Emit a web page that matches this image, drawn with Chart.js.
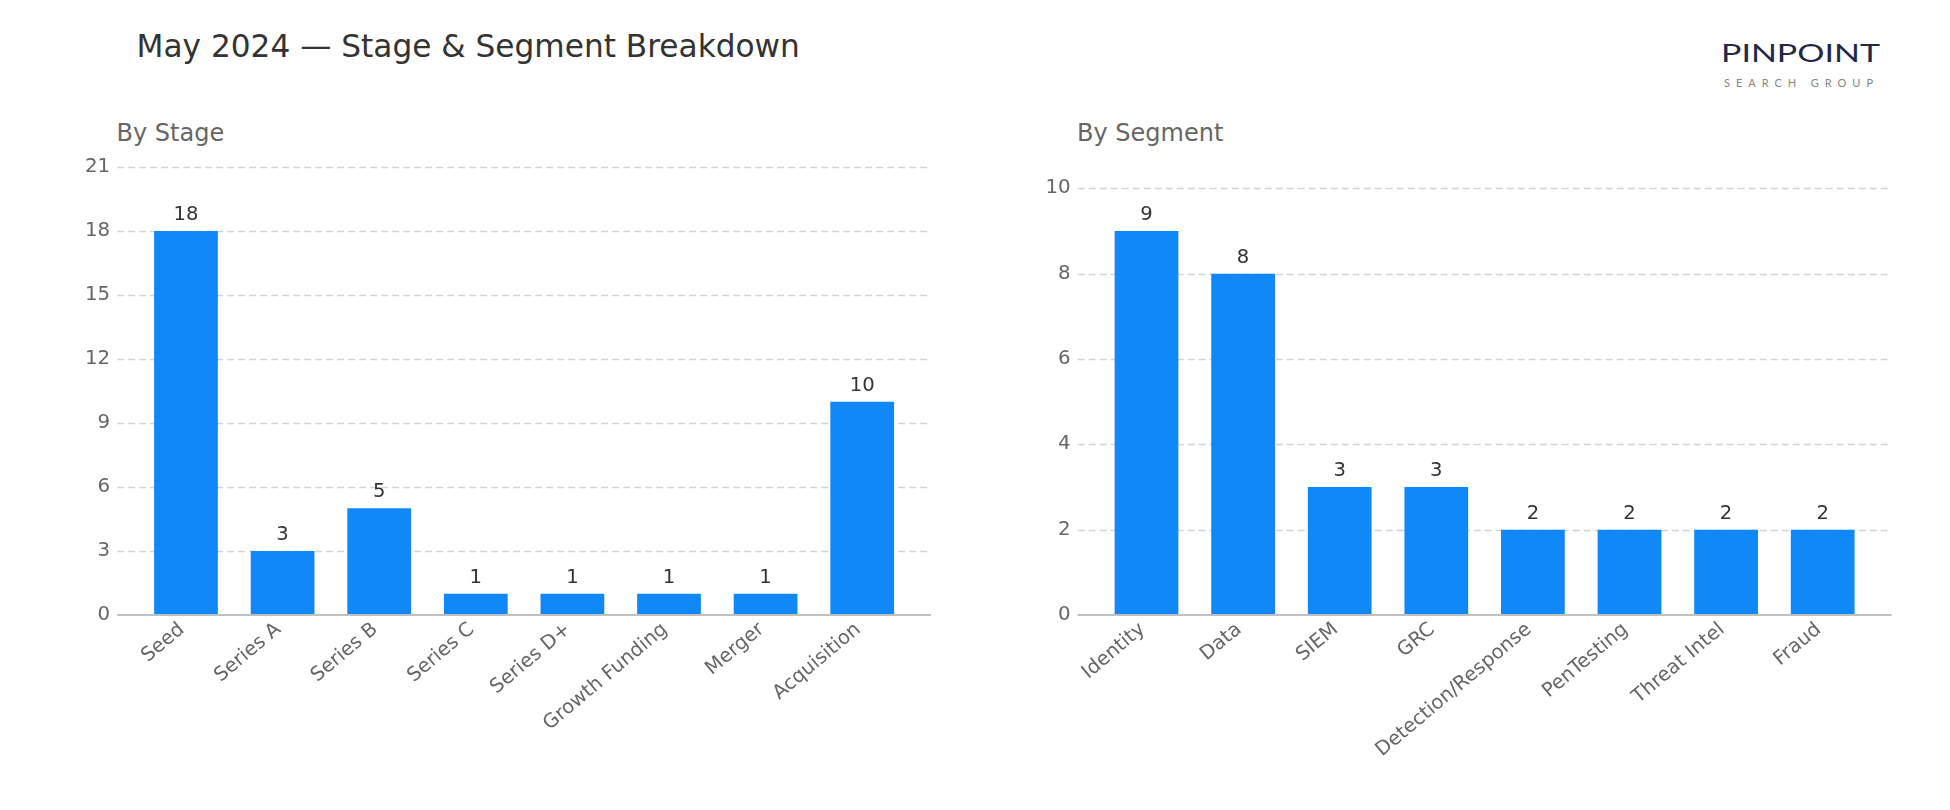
<!DOCTYPE html>
<html>
<head>
<meta charset="utf-8">
<script src="https://cdn.jsdelivr.net/npm/chart.js@4.4.1/dist/chart.umd.min.js"></script>
<style>
  html, body { margin: 0; padding: 0; background: #ffffff; width: 1950px; height: 810px; overflow: hidden; }
  .t { position: absolute; white-space: nowrap; line-height: 1; font-family: "DejaVu Sans", sans-serif; }
  .cv { position: absolute; top: 0; }
  #logo1 { font-family: "Lato", "Roboto", sans-serif; font-weight: 400; font-size: 25.5px; color: #222749; top: 39.5px; left: 1721px; transform-origin: 0 0; }
  #logo2 { font-family: "Lato", "Roboto", sans-serif; font-weight: 400; font-size: 11px; color: #858585; top: 76.5px; left: 1724px; }
</style>
</head>
<body>
<div class="t" style="left:136.5px; top:31px; font-size:31.2px; color:#333333;">May 2024 — Stage &amp; Segment Breakdown</div>
<div class="t" style="left:116.5px; top:121px; font-size:24px; color:#666666;">By Stage</div>
<div class="t" style="left:1077px; top:121px; font-size:24px; color:#666666;">By Segment</div>
<div class="t" id="logo1">PINPOINT</div>
<div class="t" id="logo2">SEARCH GROUP</div>

<canvas id="c1" class="cv" width="975" height="810" style="left:0px;"></canvas>
<canvas id="c2" class="cv" width="975" height="810" style="left:975px;"></canvas>

<script>
// ---- data ----
const stageLabels = ['Seed', 'Series A', 'Series B', 'Series C', 'Series D+', 'Growth Funding', 'Merger', 'Acquisition'];
const stageCounts = [18, 3, 5, 1, 1, 1, 1, 10];
const stageTicks = [0, 3, 6, 9, 12, 15, 18, 21];
const stageAxisMax = 21;

const segmentLabels = ['Identity', 'Data', 'SIEM', 'GRC', 'Detection/Response', 'PenTesting', 'Threat Intel', 'Fraud'];
const segmentCounts = [9, 8, 3, 3, 2, 2, 2, 2];
const segmentTicks = [0, 2, 4, 6, 8, 10];
const segmentAxisMax = 10.5;

// ---- style ----
const BAR_COLOR = '#1188f7';
const FONT = 'DejaVu Sans';
const AXIS_MARGIN = 20.5;

function fitScale(id, target) {
  const el = document.getElementById(id);
  const w = el.getBoundingClientRect().width;
  el.style.transform = 'scaleX(' + (target / w) + ')';
}
function fitSpacing(id, target) {
  const el = document.getElementById(id);
  const w = el.getBoundingClientRect().width;
  const n = el.textContent.length;
  el.style.letterSpacing = ((target - w) / (n - 1)) + 'px';
}

const gridPlugin = {
  id: 'gridPlugin',
  beforeDatasetsDraw(chart) {
    const { ctx, chartArea } = chart;
    const y = chart.scales.y;
    ctx.save();
    ctx.strokeStyle = '#d4d4d4';
    ctx.lineWidth = 1.3;
    ctx.setLineDash([7, 4]);
    y.ticks.forEach(t => {
      if (t.value === 0) return;
      const py = Math.round(y.getPixelForValue(t.value)) + 0.5;
      ctx.beginPath();
      ctx.moveTo(chartArea.left - AXIS_MARGIN, py);
      ctx.lineTo(chartArea.right + AXIS_MARGIN, py);
      ctx.stroke();
    });
    ctx.restore();
  },
  afterDatasetsDraw(chart) {
    const { ctx, chartArea } = chart;
    const y = chart.scales.y;
    ctx.save();
    ctx.strokeStyle = '#c0c0c0';
    ctx.lineWidth = 2;
    const py = y.getPixelForValue(0);
    ctx.beginPath();
    ctx.moveTo(chartArea.left - AXIS_MARGIN, py);
    ctx.lineTo(chartArea.right + AXIS_MARGIN, py);
    ctx.stroke();
    const meta = chart.getDatasetMeta(0);
    const data = chart.data.datasets[0].data;
    ctx.fillStyle = '#333333';
    ctx.font = '19.6px "' + FONT + '"';
    ctx.textAlign = 'center';
    ctx.textBaseline = 'alphabetic';
    meta.data.forEach((bar, i) => {
      ctx.fillText(String(data[i]), bar.x, bar.y - 11);
    });
    ctx.restore();
  }
};

function makeChart(id, labels, values, tickValues, yMax, yAxisWidth, padRight) {
  return new Chart(document.getElementById(id), {
    type: 'bar',
    data: {
      labels: labels,
      datasets: [{
        data: values,
        backgroundColor: BAR_COLOR,
        borderWidth: 0,
        categoryPercentage: 1.0,
        barPercentage: 0.66
      }]
    },
    options: {
      responsive: false,
      animation: false,
      devicePixelRatio: 1,
      layout: { padding: { top: 167, right: padRight, left: 0, bottom: 0 } },
      plugins: { legend: { display: false }, tooltip: { enabled: false } },
      scales: {
        x: {
          type: 'category',
          offset: true,
          grid: { display: false, drawTicks: false },
          border: { display: false },
          ticks: {
            autoSkip: false,
            minRotation: 40,
            maxRotation: 40,
            color: '#666666',
            padding: 3,
            labelOffset: -4,
            font: { family: FONT, size: 19.6 }
          },
          afterFit(s) { s.height = 810 - 615; }
        },
        y: {
          min: 0,
          max: yMax,
          grid: { display: false, drawTicks: false },
          border: { display: false },
          ticks: {
            color: '#666666',
            padding: 27.5,
            font: { family: FONT, size: 19.8 }
          },
          afterBuildTicks(s) {
            s.ticks = tickValues.map(v => ({ value: v }));
          },
          afterFit(s) { s.width = yAxisWidth; }
        }
      }
    },
    plugins: [gridPlugin]
  });
}

makeChart('c1', stageLabels, stageCounts, stageTicks, stageAxisMax, 137.7, 64.5);
makeChart('c2', segmentLabels, segmentCounts, segmentTicks, segmentAxisMax, 123.2, 79);

fitScale('logo1', 159);
fitSpacing('logo2', 149);
</script>
</body>
</html>
